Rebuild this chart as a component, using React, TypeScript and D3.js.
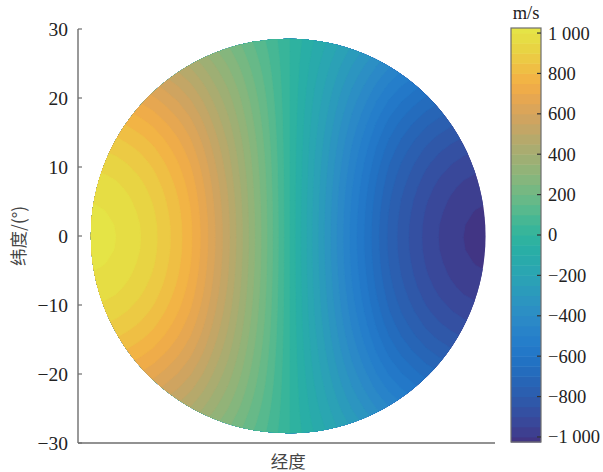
import * as d3 from 'd3';

const equatorLon = [-28.6, -26.8, -25.0, -23.2, -21.5, -19.7, -17.9, -16.1, -14.3, -12.5, -10.7, -8.9, -7.2, -5.4, -3.6, -1.8, 0, 1.8, 3.6, 5.4, 7.2, 8.9, 10.7, 12.5, 14.3, 16.1, 17.9, 19.7, 21.5, 23.2, 25.0, 26.8, 28.6];
const equatorVelocity = [1020, 1013, 1000, 978, 950, 915, 870, 820, 760, 685, 600, 515, 420, 320, 220, 110, 0, -110, -220, -320, -420, -515, -600, -685, -760, -820, -870, -915, -950, -978, -1000, -1013, -1020];
// fraction of the equator value kept at each latitude (north to south)
const gridLat = [28.6, 26.8, 25.0, 23.2, 21.5, 19.7, 17.9, 16.1, 14.3, 12.5, 10.7, 8.9, 7.2, 5.4, 3.6, 1.8, 0, -1.8, -3.6, -5.4, -7.2, -8.9, -10.7, -12.5, -14.3, -16.1, -17.9, -19.7, -21.5, -23.2, -25.0, -26.8, -28.6];
const latFactor = [0.454, 0.514, 0.572, 0.627, 0.679, 0.728, 0.773, 0.815, 0.853, 0.887, 0.916, 0.941, 0.962, 0.978, 0.99, 0.998, 1, 0.998, 0.99, 0.978, 0.962, 0.941, 0.916, 0.887, 0.853, 0.815, 0.773, 0.728, 0.679, 0.627, 0.572, 0.514, 0.454];
const diskRadiusDeg = 28.6;

const latTicks = [30, 20, 10, 0, -10, -20, -30];
const cbTicks = [1000, 800, 600, 400, 200, 0, -200, -400, -600, -800, -1000];

// colormap as seen on the colour bar
const cmapValues = [-1025, -950, -850, -750, -650, -550, -450, -350, -250, -150, -50, 50, 150, 250, 350, 450, 550, 650, 750, 850, 950, 1025];
const cmapColors = ['#413584', '#3b4496', '#3154a6', '#2962b3', '#226fc0', '#237bca', '#2a86c8', '#2c92c2', '#2b9eb8', '#29a8ae', '#29b0a3', '#3db697', '#5fba8b', '#7eb77f', '#98b176', '#b0aa6e', '#c9a463', '#e1a555', '#f3ae45', '#eec544', '#e6d943', '#e5e446'];

const W = 603;
const H = 472;
const num = (v: number) => {
  const a = Math.abs(v);
  const s = a >= 1000 ? `${Math.floor(a / 1000)} ${String(a % 1000).padStart(3, '0')}` : String(a);
  return v < 0 ? '\u2212' + s : s;
};

export default function App() {
  const x = d3.scaleLinear().domain([-30.5, 30]).range([78, 495]);
  const y = d3.scaleLinear().domain([-30, 30]).range([443, 29]);
  const cbY = d3.scaleLinear().domain([-1025, 1025]).range([442, 28]);
  const color = d3.scaleLinear<string>().domain(cmapValues).range(cmapColors).clamp(true);

  // grid table for the contour generator
  const nx = equatorLon.length;
  const ny = gridLat.length;
  const values: number[] = [];
  latFactor.forEach((f) => equatorVelocity.forEach((v) => values.push(v * f)));

  const lonStep = equatorLon[1] - equatorLon[0];
  const latStep = gridLat[0] - gridLat[1];
  const levels = d3.range(-1050, 1050, 50);
  const contours = d3.contours().size([nx, ny]).thresholds(levels)(values);
  const proj = d3.geoTransform({
    point(px: number, py: number) {
      this.stream.point(x(equatorLon[0] + (px - 0.5) * lonStep), y(gridLat[0] - (py - 0.5) * latStep));
    },
  });
  const path = d3.geoPath(proj);

  const cx = x(0);
  const cy = y(0);
  const r = y(0) - y(diskRadiusDeg);

  const cbBands = levels.filter((l) => l + 50 > -1025 && l < 1025);
  const serif = '"Liberation Serif", "Times New Roman", "DejaVu Serif", serif';
  const cjk = '"Noto Sans CJK SC", sans-serif';
  const axisColor = '#6e6e6e';
  const numStyle = { fontFamily: serif, fontSize: 19.5 };
  const cbStyle = { fontFamily: serif, fontSize: 18.5 };
  const cjkStyle = { fontFamily: cjk, fontSize: 17.5 };

  return (
    <svg width={W} height={H} style={{ position: 'absolute', left: 0, top: 0, background: '#fff' }}>
      <defs>
        <clipPath id="disk">
          <circle cx={cx} cy={cy} r={r} />
        </clipPath>
      </defs>
      <g clipPath="url(#disk)">
        {contours.map((c, i) => (
          <path key={i} d={path(c as any) || ''} fill={color(c.value + 25)} stroke={color(c.value + 25)} strokeWidth={0.6} />
        ))}
      </g>

      {/* axes */}
      <line x1={x.range()[0]} x2={x.range()[0]} y1={y(-30)} y2={y(30)} stroke={axisColor} strokeWidth={1.4} />
      <line x1={x.range()[0]} x2={x.range()[1]} y1={y(-30)} y2={y(-30)} stroke={axisColor} strokeWidth={1.4} />
      {latTicks.map((t) => (
        <g key={t}>
          <line x1={x.range()[0]} x2={x.range()[0] + 4} y1={y(t)} y2={y(t)} stroke={axisColor} strokeWidth={1.2} />
          <text x={x.range()[0] - 10} y={y(t)} dy="0.35em" textAnchor="end" style={numStyle} fill="#222">
            {num(t)}
          </text>
        </g>
      ))}
      <text transform={`translate(19,${y(0)}) rotate(-90)`} textAnchor="middle" dy="0.35em" style={cjkStyle} fill="#444">
        纬度/(°)
      </text>
      <text x={cx} y={468} textAnchor="middle" style={cjkStyle} fill="#444">
        经度
      </text>

      {/* colour bar */}
      {cbBands.map((l) => {
        const lo = Math.max(l, -1025);
        const hi = Math.min(l + 50, 1025);
        return <rect key={l} x={511} width={30} y={cbY(hi)} height={cbY(lo) - cbY(hi) + 0.5} fill={color(l + 25)} />;
      })}
      <rect x={511} width={30} y={cbY(1025)} height={cbY(-1025) - cbY(1025)} fill="none" stroke={axisColor} strokeWidth={1.2} />
      {cbTicks.map((t) => (
        <g key={t}>
          <line x1={537} x2={541} y1={cbY(t)} y2={cbY(t)} stroke="#333" strokeWidth={1.2} />
          <text x={548} y={cbY(t)} dy="0.35em" style={cbStyle} fill="#222">
            {num(t)}
          </text>
        </g>
      ))}
      <text x={526} y={19} textAnchor="middle" style={cbStyle} fill="#222">
        m/s
      </text>
    </svg>
  );
}
